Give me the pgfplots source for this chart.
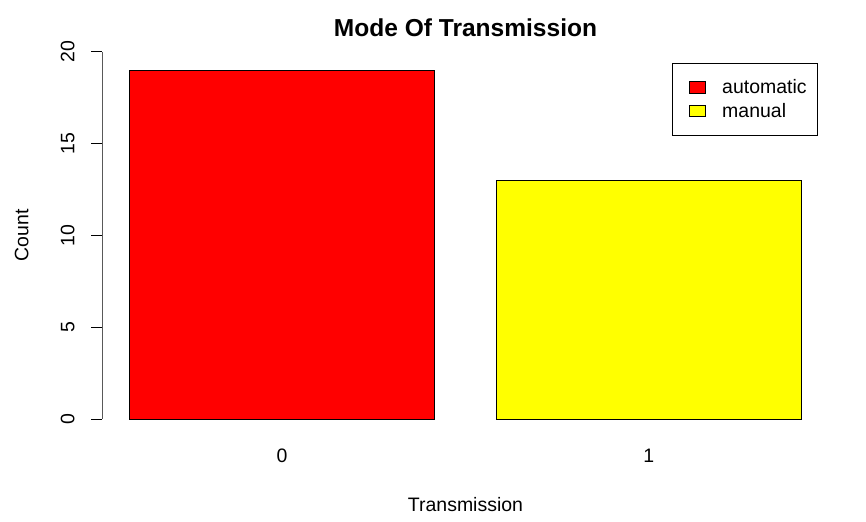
\documentclass[border=0pt]{standalone}
\usepackage{pgfplots}
\pgfplotsset{compat=1.18}
\usepackage{fontspec}
\setmainfont{Liberation Sans}
\definecolor{barred}{HTML}{FF0000}
\definecolor{baryellow}{HTML}{FFFF00}
\begin{document}
\begin{tikzpicture}
\path[use as bounding box] (0,0) rectangle (649.5pt,-390.75pt);
\begin{axis}[
  at={(76.8pt,-325.5pt)}, anchor=south west,
  scale only axis, width=544.65pt, height=297.75pt,
  xmin=0.112, xmax=2.488, ymin=-0.8, ymax=20.8,
  axis line style={draw=none},
  xtick={0.7,1.9}, xticklabels={0,1},
  ytick={0,5,10,15,20},
  x tick style={draw=none},
  y tick style={black, line width=0.75pt},
  tick align=outside,
  major tick length=8.25pt,
  ytick pos=left, xtick pos=bottom,
  font=\fontsize{14.6}{17.5}\selectfont,
  /pgf/number format/assume math mode=true,
  yticklabel shift=12.75pt,
  yticklabel style={rotate=90, anchor=base, font=\fontsize{14.6}{17.5}\selectfont},
  xticklabel style={anchor=base, yshift=-13.3pt, font=\fontsize{14.6}{17.5}\selectfont},
  title={Mode Of Transmission},
  every axis title/.style={at={(axis description cs:0.5,1.0025)}, anchor=base, font=\bfseries\fontsize{18.4}{22}\selectfont},
  xlabel={Transmission},
  ylabel={Count},
  every axis x label/.style={at={(axis description cs:0.5,-0.1957)}, anchor=base},
  every axis y label/.style={at={(axis description cs:-0.102,0.5)}, rotate=90, anchor=base},
  legend style={at={(axis description cs:0.784,0.9353)}, anchor=north west,
    draw=black, line width=0.75pt, fill=white, font=\fontsize{14.6}{17.5}\selectfont,
    inner xsep=6.5pt, inner ysep=10pt, row sep=1.75pt, cells={anchor=west}},
  legend cell align=left,
  legend image code/.code={\path[draw=none,fill=none] (-6.2pt,0pt) (22.8pt,0pt);\draw[#1, draw=black, line width=0.6pt] (0pt,-4.4pt) rectangle (11.8pt,4.4pt);},
]
\addplot[ybar, bar width=1, bar shift=0pt, fill=barred, draw=black, line width=0.75pt] coordinates {(0.7,19)};
\addlegendentry{automatic}
\addplot[ybar, bar width=1, bar shift=0pt, fill=baryellow, draw=black, line width=0.75pt] coordinates {(1.9,13)};
\addlegendentry{manual}
\draw[black, line width=0.75pt] (axis cs:0.112,0) -- (axis cs:0.112,20);
\end{axis}
\end{tikzpicture}
\end{document}
